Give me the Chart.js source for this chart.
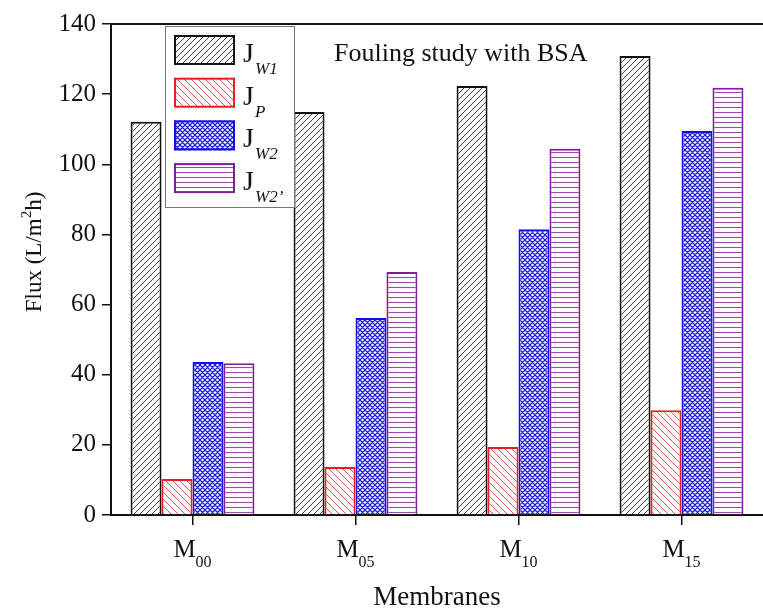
<!DOCTYPE html>
<html>
<head>
<meta charset="utf-8">
<script src="https://cdn.jsdelivr.net/npm/chart.js@4/dist/chart.umd.min.js"></script>
<style>
  html, body { margin: 0; padding: 0; background: #fff; }
  #wrap { width: 763px; height: 615px; }
</style>
</head>
<body>
<div id="wrap"><canvas id="flux-chart" width="763" height="615"></canvas></div>
<script>
// values (L/m2h)
const membranes = ["M00", "M05", "M10", "M15"];
const jW1 = [112.1, 114.9, 122.3, 130.9];
const jP = [10.3, 13.7, 19.4, 29.9];
const jW2 = [43.6, 56.2, 81.5, 109.5];
const jW2b = [43.3, 69.3, 104.4, 121.8];
const seriesSubs = ["W1", "P", "W2", "W2\u2019"];
const yTicks = [0, 20, 40, 60, 80, 100, 120, 140];

const SERIF = "'Liberation Serif', 'Times New Roman', serif";

function hatch(kind, color, size, width) {
  const c = document.createElement("canvas");
  c.width = size;
  c.height = size;
  const g = c.getContext("2d");
  g.fillStyle = "#fff";
  g.fillRect(0, 0, size, size);
  g.strokeStyle = color;
  g.lineWidth = width;
  g.beginPath();
  if (kind === "fwd" || kind === "cross") {
    g.moveTo(-1, size + 1); g.lineTo(size + 1, -1);
    g.moveTo(-1, 1); g.lineTo(1, -1);
    g.moveTo(size - 1, size + 1); g.lineTo(size + 1, size - 1);
  }
  if (kind === "back" || kind === "cross") {
    g.moveTo(-1, -1); g.lineTo(size + 1, size + 1);
    g.moveTo(size - 1, -1); g.lineTo(size + 1, 1);
    g.moveTo(-1, size - 1); g.lineTo(1, size + 1);
  }
  if (kind === "horiz") {
    g.moveTo(0, size / 2); g.lineTo(size, size / 2);
  }
  g.stroke();
  return g.createPattern(c, "repeat");
}

const ctx = document.getElementById("flux-chart").getContext("2d");

const fills = [
  hatch("fwd", "#444", 6, 1),
  hatch("back", "#e05555", 7, 1),
  hatch("cross", "#2222dd", 5, 1.3),
  hatch("horiz", "#9a4aa8", 5, 1.1),
];
const borders = ["#111", "#ee1c1c", "#1010e6", "#7e1e9a"];
const seriesData = [jW1, jP, jW2, jW2b];

// draws frame top, title, legend box, category labels, y title
const decorPlugin = {
  id: "decor",
  afterDraw(chart) {
    const c = chart.ctx;
    const area = chart.chartArea;
    c.save();

    // top frame line
    c.strokeStyle = "#111";
    c.lineWidth = 2;
    c.beginPath();
    c.moveTo(area.left, area.top);
    c.lineTo(chart.width, area.top);
    c.stroke();

    // title inside plot
    c.fillStyle = "#111";
    c.font = "26px " + SERIF;
    c.textBaseline = "alphabetic";
    c.textAlign = "left";
    c.fillText("Fouling study with BSA", 334, 61);

    // legend box
    c.fillStyle = "#fff";
    c.fillRect(165, 26, 130, 182);
    c.strokeStyle = "#777";
    c.lineWidth = 1;
    c.strokeRect(165.5, 26.5, 129, 181);
    chart.data.datasets.forEach((ds, i) => {
      const y = 35 + i * 42.7;
      c.fillStyle = ds.backgroundColor;
      c.fillRect(174, y, 61, 30);
      c.strokeStyle = ds.borderColor;
      c.lineWidth = 2;
      c.strokeRect(175, y + 1, 59, 28);
      c.fillStyle = "#111";
      c.font = "28px " + SERIF;
      c.fillText("J", 243, y + 27);
      c.font = "italic 17px " + SERIF;
      c.fillText(seriesSubs[i], 255, y + 39);
    });

    // category labels with subscripts
    const xs = chart.scales.x;
    membranes.forEach((m, i) => {
      const cx = xs.getPixelForValue(i);
      const main = m.charAt(0);
      const sub = m.slice(1);
      c.font = "25px " + SERIF;
      const w1 = c.measureText(main).width;
      c.font = "16px " + SERIF;
      const w2 = c.measureText(sub).width;
      const x0 = cx - (w1 + w2) / 2;
      c.font = "25px " + SERIF;
      c.fillText(main, x0, 557);
      c.font = "16px " + SERIF;
      c.fillText(sub, x0 + w1, 567);
    });

    // y axis title with superscript
    c.translate(33, 252);
    c.rotate(-Math.PI / 2);
    const parts = [["Flux (L/m", 23, 0], ["2", 15, -10], ["h)", 23, 0]];
    let total = 0;
    parts.forEach(p => { c.font = p[1] + "px " + SERIF; total += c.measureText(p[0]).width; });
    let px = -total / 2;
    parts.forEach(p => {
      c.font = p[1] + "px " + SERIF;
      c.fillText(p[0], px, 8 + p[2]);
      px += c.measureText(p[0]).width;
    });
    c.restore();
  },
};

new Chart(ctx, {
  type: "bar",
  data: {
    labels: membranes,
    datasets: seriesData.map((vals, i) => ({
      label: "J" + seriesSubs[i],
      data: vals,
      backgroundColor: fills[i],
      borderColor: borders[i],
      borderWidth: 2,
      borderSkipped: "bottom",
      categoryPercentage: 0.76,
      barPercentage: 1.0,
    })),
  },
  options: {
    responsive: false,
    animation: false,
    devicePixelRatio: 1,
    layout: { padding: { top: 24, left: 0, right: 0, bottom: 0 } },
    plugins: {
      legend: { display: false },
      title: { display: false },
      tooltip: { enabled: false },
    },
    scales: {
      x: {
        afterFit: (s) => { s.height = 100; },
        grid: {
          display: true,
          drawOnChartArea: false,
          drawTicks: true,
          offset: false,
          tickLength: 10,
          color: "#111",
          lineWidth: 1.5,
        },
        border: { display: true, color: "#111", width: 2 },
        ticks: { display: false },
        title: {
          display: true,
          text: "Membranes",
          color: "#111",
          font: { family: SERIF, size: 27 },
          padding: { top: 0, bottom: 1 },
        },
      },
      y: {
        min: 0,
        max: 140,
        afterFit: (s) => { s.width = 111; },
        afterBuildTicks: (s) => { s.ticks = yTicks.map((v) => ({ value: v })); },
        grid: {
          display: true,
          drawOnChartArea: false,
          drawTicks: true,
          tickLength: 9,
          color: "#111",
          lineWidth: 1.5,
        },
        border: { display: true, color: "#111", width: 2 },
        ticks: {
          color: "#111",
          padding: 6,
          font: { family: SERIF, size: 25 },
        },
      },
    },
  },
  plugins: [decorPlugin],
});
</script>
</body>
</html>
